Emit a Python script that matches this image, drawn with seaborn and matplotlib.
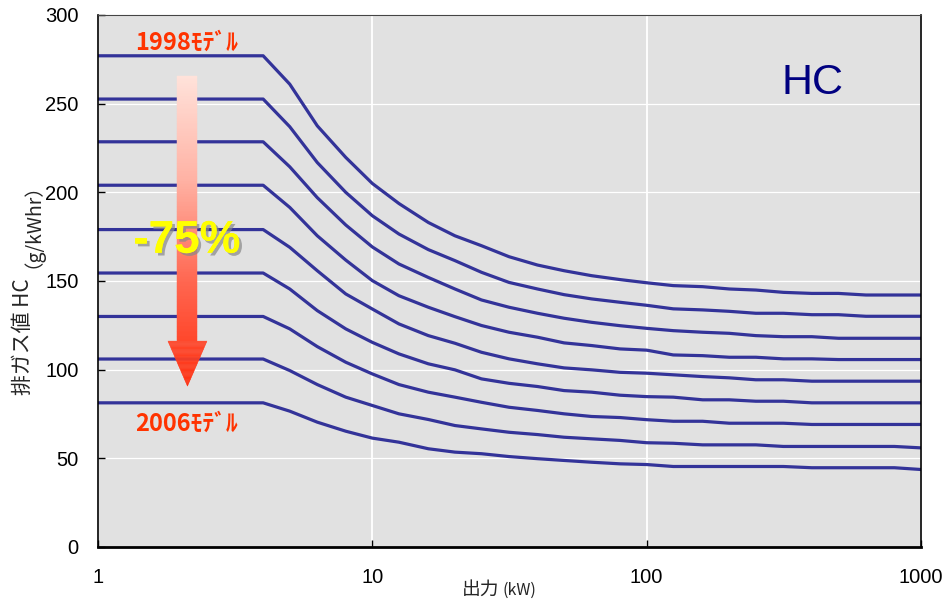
import numpy as np
import pandas as pd
import matplotlib
matplotlib.use('Agg')
import matplotlib.pyplot as plt
import seaborn as sns
from matplotlib import patheffects
from matplotlib.colors import LinearSegmentedColormap
from matplotlib.ticker import NullLocator

# --- DATA ---
power_kw = [1, 4, 5, 6.3, 8, 10, 12.5, 16, 20, 25, 31.5, 40, 50, 63, 80, 100,
            125, 160, 200, 250, 315, 400, 500, 630, 800, 1000]

hc_1998 = [277, 277, 261, 237.5, 219.7, 205, 193.7, 183, 175.5, 169.9, 163.7, 159, 155.8,
           153, 150.8, 149, 147.4, 146.8, 145.5, 144.9, 143.6, 143, 143, 142.1, 142.1, 142.1]
hc_1999 = [252.6, 252.6, 237, 216.8, 200, 186.8, 176.5, 167.7, 161.5, 154.9, 149.2, 145.5, 142.3,
           139.9, 138, 136.3, 134.3, 133.7, 132.9, 131.8, 131.8, 131, 131, 130.1, 130.1, 130.1]
hc_2000 = [228.5, 228.5, 214.4, 197, 181.6, 169.2, 159.6, 152, 145.5, 139.3, 135.2, 131.8, 129,
           126.7, 124.8, 123.3, 122, 121.1, 120.5, 119.2, 118.6, 118.6, 117.7, 117.7, 117.7, 117.7]
hc_2001 = [204, 204, 191.5, 175.5, 161.8, 150.2, 141.7, 135.2, 129.9, 124.9, 121.1, 118.3, 115.1,
           113.6, 111.7, 111, 108.3, 107.9, 107, 107, 106.1, 106.1, 105.7, 105.7, 105.7, 105.7]
hc_2002 = [179, 179, 169, 155.8, 142.7, 134.2, 125.8, 119.2, 114.9, 109.8, 106.1, 103.3, 101,
           99.9, 98.5, 98, 97.1, 96.1, 95.4, 94.3, 94.3, 93.5, 93.5, 93.5, 93.5, 93.5]
hc_2003 = [154.5, 154.5, 145.5, 133.3, 123, 115.4, 108.9, 103.3, 99.9, 94.8, 92.3, 90.5, 88.2,
           87.3, 85.6, 84.8, 84.5, 83, 83, 82.2, 82.2, 81.3, 81.3, 81.3, 81.3, 81.3]
hc_2004 = [130, 130, 123, 113, 104.2, 97.6, 91.6, 87.3, 84.5, 81.6, 78.8, 77, 75.1,
           73.6, 73, 71.8, 70.9, 70.9, 69.8, 69.8, 69.8, 69.1, 69.1, 69.1, 69.1, 69.1]
hc_2005 = [106, 106, 99.5, 91.6, 84.5, 79.8, 75.1, 71.9, 68.5, 66.6, 64.7, 63.4, 61.9,
           61, 60.1, 58.8, 58.5, 57.6, 57.6, 57.6, 56.7, 56.7, 56.7, 56.7, 56.7, 55.9]
hc_2006 = [81.3, 81.3, 76.6, 70.4, 65.3, 61.4, 59.1, 55.4, 53.5, 52.6, 51, 49.8, 48.8,
           47.8, 46.9, 46.5, 45.4, 45.4, 45.4, 45.4, 45.4, 44.7, 44.7, 44.7, 44.7, 43.7]

models = ['1998', '1999', '2000', '2001', '2002', '2003', '2004', '2005', '2006']
series = [hc_1998, hc_1999, hc_2000, hc_2001, hc_2002, hc_2003, hc_2004, hc_2005, hc_2006]

x_ticks = [1, 10, 100, 1000]
x_ticklabels = ['1', '10', '100', '1000']
y_ticks = [0, 50, 100, 150, 200, 250, 300]

df = pd.concat([pd.DataFrame({'power': power_kw, 'hc': vals, 'model': m})
                for m, vals in zip(models, series)], ignore_index=True)

# --- STYLE ---
sns.set_theme(style='darkgrid')
plt.rcParams['font.family'] = ['Liberation Sans', 'Noto Sans CJK JP']
line_color = '#333399'
jp = ['Noto Sans CJK JP', 'DejaVu Sans']

fig, ax = plt.subplots(figsize=(9.52, 6.08), dpi=100)
fig.subplots_adjust(left=98/952, right=921/952, bottom=1-547/608, top=1-15/608)
ax.set_facecolor('#e1e1e1')

sns.lineplot(data=df, x='power', y='hc', hue='model', palette=[line_color]*9,
             legend=False, lw=2.3, estimator=None, sort=False, ax=ax, zorder=2)

ax.set_xscale('log')
ax.set_xlim(1, 1000)
ax.set_ylim(0, 300)
ax.set_xticks(x_ticks)
ax.set_xticklabels(x_ticklabels)
ax.xaxis.set_minor_locator(NullLocator())
ax.set_yticks(y_ticks)
ax.set_xlabel('')
ax.set_ylabel('')

ax.grid(True, axis='y', color='white', lw=0.9)
ax.grid(True, axis='x', color='white', lw=1.3)
ax.set_axisbelow(True)
ax.tick_params(direction='in', length=5, width=1, color='black', labelsize=14.5,
               labelcolor='black', bottom=True, left=True)
ax.tick_params(axis='x', pad=15)
ax.tick_params(axis='y', pad=14)
for side, s in ax.spines.items():
    s.set_visible(True)
    s.set_color('black')
    s.set_linewidth(1.2)
ax.spines['bottom'].set_linewidth(2)
ax.spines['top'].set_color('#444444')
ax.spines['top'].set_linewidth(0.8)

# --- gradient arrow ---
cx = np.log10(2.11)
y_top, y_base, y_tip = 265.6, 116.4, 91.0
shaft_hw, head_hw = 10/274.3, 19.5/274.3
cmap = LinearSegmentedColormap.from_list('arr', ['#ff3010', '#ff6650', '#ffb2a4', '#ffe2da'])
ys = np.concatenate([np.linspace(y_tip, y_base, 40), np.linspace(y_base, y_top, 160)[1:]])
for y0, y1 in zip(ys[:-1], ys[1:]):
    if y1 <= y_base + 1e-9:
        h0 = head_hw * (y0 - y_tip) / (y_base - y_tip)
        h1 = head_hw * (y1 - y_tip) / (y_base - y_tip)
    else:
        h0 = h1 = shaft_hw
    t = ((y0 + y1) / 2 - y_tip) / (y_top - y_tip)
    c = cmap(t)
    ax.fill_betweenx([y0, y1], [10**(cx - h0), 10**(cx - h1)], [10**(cx + h0), 10**(cx + h1)],
                     color=c, lw=0.3, edgecolor=c, zorder=3)

ax.text(2.11, 172.7, '-75%', color='#ffff00', fontsize=33, fontweight='bold',
        ha='center', va='center', zorder=5,
        path_effects=[patheffects.withSimplePatchShadow(offset=(2, -2), shadow_rgbFace='#888888', alpha=0.7),
                      patheffects.Normal()])

ax.text(2.11, 284.3, '1998ﾓﾃﾞﾙ', color='#ff3300', fontsize=17, fontweight='bold',
        family=jp, ha='center', va='center', zorder=5)
ax.text(2.11, 69.6, '2006ﾓﾃﾞﾙ', color='#ff3300', fontsize=17, fontweight='bold',
        family=jp, ha='center', va='center', zorder=5)
ax.text(401, 261.7, 'HC', color='#000080', fontsize=31, ha='center', va='center', zorder=5)

# axis titles (mixed sizes)
fig.text(23/952, 1-395/608, '排ガス値 HC', rotation=90, ha='center', va='bottom',
         fontsize=15, family=jp)
fig.text(23/952, 1-268/608, '（g/kWhr）', rotation=90, ha='center', va='bottom',
         fontsize=14, family=jp)
fig.text(462/952, 1-589/608, '出力', ha='left', va='center', fontsize=13.5, family=jp)
fig.text(502/952, 1-590/608, '(kW)', ha='left', va='center', fontsize=11.5, family=jp)

fig.savefig('out.png', dpi=100, facecolor='white')
